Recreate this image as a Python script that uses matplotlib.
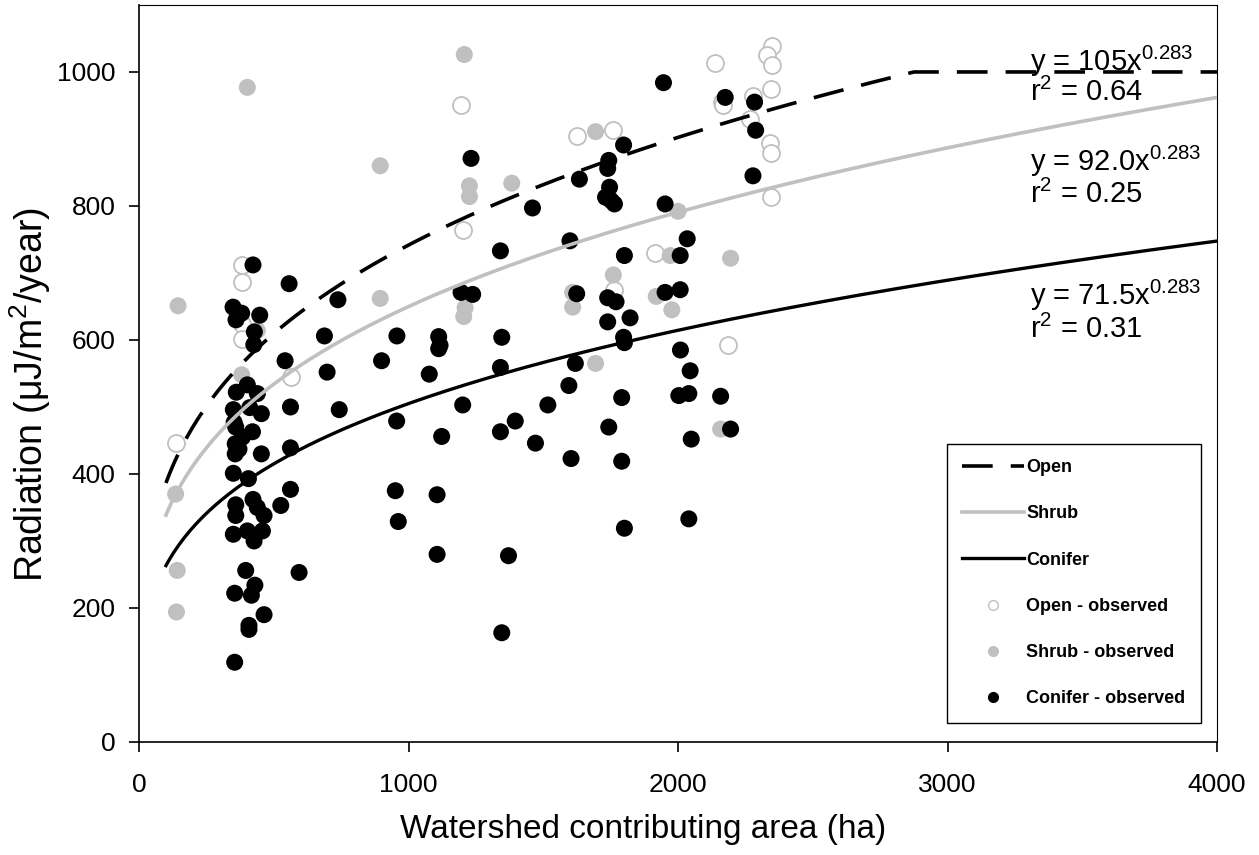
import matplotlib
matplotlib.use("Agg")
import matplotlib.pyplot as plt
from matplotlib.lines import Line2D
import numpy as np

plt.rcParams['font.family'] = ['Liberation Sans', 'DejaVu Sans']
plt.rcParams['mathtext.fontset'] = 'custom'
plt.rcParams['mathtext.rm'] = 'Liberation Sans'
plt.rcParams['mathtext.it'] = 'Liberation Sans'
plt.rcParams['mathtext.default'] = 'regular'

# ---- fitted power-law models (from the chart annotations) ----
fit_names = ["Open", "Shrub", "Conifer"]
fit_coef = [105.0, 92.0, 71.5]
fit_exp = 0.283
open_cap = 1000.0
fit_r2 = ["0.64", "0.25", "0.31"]
fit_coef_labels = ["105", "92.0", "71.5"]

# ---- observed data ----
open_x = [1195, 1201, 381, 381, 384, 384, 563, 139, 1626, 1760, 2138, 2350, 2330,
          2350, 2346, 2278, 2164, 2166, 2268, 2340, 2346, 2346, 1913, 2185, 1764]
open_y = [951, 764, 712, 686, 624, 601, 545, 446, 905, 913, 1013, 1039, 1026,
          1011, 975, 964, 955, 950, 930, 894, 879, 814, 730, 593, 674]

shrub_x = [1207, 402, 895, 1226, 1226, 1383, 145, 895, 1210, 1205, 439, 381, 136,
           142, 139, 1694, 2000, 1971, 2195, 1760, 1609, 1609, 1919, 1977, 1694, 2158]
shrub_y = [1026, 977, 860, 830, 814, 834, 651, 662, 648, 635, 614, 548, 370,
           256, 194, 911, 792, 726, 722, 697, 671, 649, 665, 645, 565, 467]

conifer_x = [1232, 1341, 1460, 423, 557, 738, 349, 381, 360, 448, 428, 426, 688,
             957, 1112, 1117, 1112, 1195, 1238, 1346, 542, 900, 698, 1077, 1341,
             361, 402, 439, 350, 411, 454, 562, 743, 353, 359, 421, 384, 357, 371,
             357, 454, 562, 350, 406, 562, 359, 359, 423, 439, 464, 526, 350, 402,
             427, 458, 956, 1123, 1201, 1341, 1396, 951, 1106, 962, 1106, 1371,
             396, 430, 417, 355, 594, 464, 408, 408, 355, 1346,
             1946, 2175, 2284, 2288, 2278, 1798, 1743, 1739, 1634, 1746, 1731,
             1764, 1752, 1952, 1599, 2034, 1801, 2008, 1624, 1739, 1770, 1952,
             2008, 1739, 1822, 1798, 1801, 2009, 1619, 2045, 1595,
             1517, 1791, 2003, 2040, 2158, 1743, 1471, 1603, 1791, 2049, 2195,
             1801, 2040]
conifer_y = [871, 733, 797, 712, 684, 660, 649, 640, 630, 637, 612, 593, 606,
             606, 605, 592, 587, 671, 668, 604, 569, 569, 552, 549, 559,
             522, 533, 520, 496, 499, 490, 500, 496, 477, 470, 463, 455, 445, 437,
             430, 430, 439, 401, 393, 377, 354, 338, 362, 350, 338, 353, 310, 315,
             300, 315, 479, 456, 503, 463, 479, 375, 369, 329, 280, 278,
             256, 234, 219, 222, 253, 190, 174, 168, 119, 163,
             984, 962, 955, 913, 845, 891, 868, 856, 840, 828, 813,
             803, 808, 803, 748, 751, 726, 726, 669, 663, 657, 671,
             675, 627, 633, 604, 596, 585, 565, 554, 532,
             503, 514, 517, 520, 516, 470, 446, 423, 419, 452, 467,
             319, 333]

x_ticks = [0, 1000, 2000, 3000, 4000]
y_ticks = [0, 200, 400, 600, 800, 1000]

GRAY = '#c0c0c0'

fig = plt.figure(figsize=(12.59, 8.55), dpi=100)
ax = fig.add_axes([0.1104, 0.1322, 0.8563, 0.8620])

xs = np.linspace(100, 4000, 400)
y_open = np.minimum(fit_coef[0] * xs ** fit_exp, open_cap)
y_shrub = fit_coef[1] * xs ** fit_exp
y_con = fit_coef[2] * xs ** fit_exp

ax.scatter(open_x, open_y, s=150, facecolors='white', edgecolors=GRAY,
           linewidths=1.3, zorder=2)
ax.scatter(shrub_x, shrub_y, s=150, color=GRAY, edgecolors='none', zorder=3)
ax.scatter(conifer_x, conifer_y, s=150, color='black', edgecolors='none',
           zorder=4)

l1, = ax.plot(xs, y_open, color='black', lw=2.6, linestyle=(0, (8.5, 5.0)),
              zorder=5)
l2, = ax.plot(xs, y_shrub, color=GRAY, lw=2.6, zorder=5)
l3, = ax.plot(xs, y_con, color='black', lw=2.4, zorder=5)

# annotations
ann_y = [(1016, 969), (866, 818), (666, 616)]
for coef, r2, (ye, yr) in zip(fit_coef_labels, fit_r2, ann_y):
    ax.text(3305, ye, 'y = %sx$^{%s}$' % (coef, '0.283'), fontsize=21,
            va='center', ha='left', zorder=6)
    ax.text(3305, yr, 'r$^2$ = %s' % r2, fontsize=21, va='center', ha='left',
            zorder=6)

ax.set_xlim(0, 4000)
ax.set_ylim(0, 1100)
ax.set_xticks(x_ticks)
ax.set_yticks(y_ticks)
ax.tick_params(axis='both', direction='out', length=7, width=1.2,
               labelsize=19)
ax.tick_params(axis='x', pad=15)
ax.tick_params(axis='y', pad=10)
for sp in ax.spines.values():
    sp.set_linewidth(1.2)
ax.spines['right'].set_linewidth(0.8)
ax.spines['top'].set_linewidth(0.8)

ax.set_xlabel('Watershed contributing area (ha)', fontsize=24)
ax.set_ylabel('Radiation (μJ/m$^2$/year)', fontsize=27)
ax.xaxis.set_label_coords(0.4675, -0.098)
ax.yaxis.set_label_coords(-0.080, 0.471)

h4 = Line2D([], [], linestyle='none', marker='o', markersize=7,
            markerfacecolor='white', markeredgecolor=GRAY, markeredgewidth=1)
h5 = Line2D([], [], linestyle='none', marker='o', markersize=7,
            markerfacecolor=GRAY, markeredgecolor=GRAY)
h6 = Line2D([], [], linestyle='none', marker='o', markersize=7,
            markerfacecolor='black', markeredgecolor='black')
leg = ax.legend([l1, l2, l3, h4, h5, h6],
                ['Open', 'Shrub', 'Conifer', 'Open - observed',
                 'Shrub - observed', 'Conifer - observed'],
                loc='lower right', bbox_to_anchor=(0.985, 0.026),
                prop={'weight': 'bold', 'size': 13},
                handlelength=3.4, handletextpad=0.15, labelspacing=1.62,
                borderpad=0.85, frameon=True, fancybox=False, framealpha=1,
                edgecolor='black', borderaxespad=0)
leg.get_frame().set_linewidth(1.0)
leg.set_zorder(10)

fig.savefig('out.png', dpi=100)
